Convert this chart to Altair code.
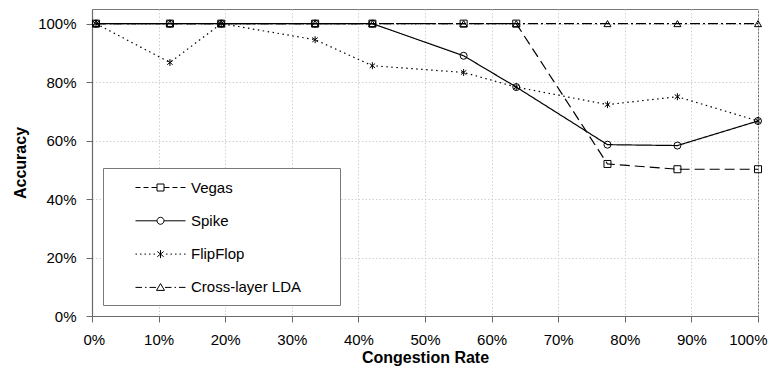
import math
import altair as alt
import pandas as pd

# ---------------- data ----------------
SERIES = ["Vegas", "Spike", "FlipFlop", "Cross-layer LDA"]
CONGESTION = [0.006, 0.117, 0.194, 0.335, 0.421, 0.558, 0.637, 0.774, 0.879, 1.0]
VEGAS = [1.0, 1.0, 1.0, 1.0, 1.0, 1.0, 1.0, 0.520, 0.502, 0.502]
SPIKE = [1.0, 1.0, 1.0, 1.0, 1.0, 0.890, 0.783, 0.586, 0.583, 0.667]
FLIPFLOP = [1.0, 0.867, 1.0, 0.945, 0.856, 0.833, 0.783, 0.723, 0.750, 0.667]
LDA = [1.0, 1.0, 1.0, 1.0, 1.0, 1.0, 1.0, 1.0, 1.0, 1.0]
X_TICKS = [0.0, 0.1, 0.2, 0.3, 0.4, 0.5, 0.6, 0.7, 0.8, 0.9, 1.0]
Y_TICKS = [0.0, 0.2, 0.4, 0.6, 0.8, 1.0]

VALUES = {"Vegas": VEGAS, "Spike": SPIKE, "FlipFlop": FLIPFLOP, "Cross-layer LDA": LDA}
rows = []
for s in SERIES:
    for xv, yv in zip(CONGESTION, VALUES[s]):
        rows.append({"series": s, "rate": xv, "acc": yv})
df = pd.DataFrame(rows)

# ---------------- styles ----------------
FONT = "Liberation Sans"
DASHES = [[10, 5], [1, 0], [1.5, 3.5], [10, 3, 2, 3]]
ASTERISK = "M0,-1L0,1M-0.78,-0.62L0.78,0.62M-0.78,0.62L0.78,-0.62"
SHAPES = ["square", "circle", ASTERISK, "triangle-up"]
SIZES = [49, 49, 64, 64]

# legend symbols: line sample with marker (unit = 10 px)
U = 10.0
EXTEND = 168  # invisible bound to widen the legend box


def hseg(a, b):
    return f"M{a / U:.3f},0L{b / U:.3f},0"


def poly(pts):
    return "M" + "L".join(f"{x / U:.3f},{y / U:.3f}" for x, y in pts) + "Z"


def segs(lst):
    return "".join(hseg(a, b) for a, b in lst)


ext = f"M{EXTEND / U:.3f},0"
sq = poly([(-3.5, -3.5), (3.5, -3.5), (3.5, 3.5), (-3.5, 3.5)])
circ = poly([(3.5 * math.cos(k * math.pi / 8), 3.5 * math.sin(k * math.pi / 8)) for k in range(16)])
tri = poly([(0, -3.8), (4, 3), (-4, 3)])
ast = (f"M0,{-4 / U:.3f}L0,{4 / U:.3f}"
       f"M{-3.2 / U:.3f},{-2.6 / U:.3f}L{3.2 / U:.3f},{2.6 / U:.3f}"
       f"M{-3.2 / U:.3f},{2.6 / U:.3f}L{3.2 / U:.3f},{-2.6 / U:.3f}")

LEG_VEGAS = ext + segs([(-25, -20), (-17, -12), (-9, -3.5), (3.5, 9), (12, 17), (20, 25)]) + sq
LEG_SPIKE = ext + segs([(-25, -3.5), (3.5, 25)]) + circ
LEG_FLIP = ext + segs([(-25, -23.5), (-20.5, -19), (-16, -14.5), (-11.5, -10), (-7, -5.5),
                       (5.5, 7), (10, 11.5), (14.5, 16), (19, 20.5), (23.5, 25)]) + ast
LEG_LDA = ext + segs([(-25, -18.5), (-15.5, -14), (-11, -4.5), (4.5, 11), (14, 15.5), (18.5, 25)]) + tri
LEGEND_PATHS = [LEG_VEGAS, LEG_SPIKE, LEG_FLIP, LEG_LDA]

x_enc = alt.X(
    "rate:Q",
    scale=alt.Scale(domain=[0, 1], nice=False),
    axis=alt.Axis(
        values=X_TICKS, format=".0%", title="Congestion Rate",
        labelFlush=True, labelFlushOffset=9, labelPadding=10, tickSize=6,
        titleBaseline="alphabetic", titleY=46,
    ),
)
y_enc = alt.Y(
    "acc:Q",
    scale=alt.Scale(domain=[0, 1.05], nice=False, zero=True),
    axis=alt.Axis(
        values=Y_TICKS, format=".0%", title="Accuracy",
        labelFlush=False, labelPadding=10, tickSize=6,
        titleBaseline="alphabetic", titleX=-67,
    ),
)

lines = alt.Chart(df).mark_line(color="black", strokeWidth=1.2).encode(
    x=x_enc, y=y_enc,
    strokeDash=alt.StrokeDash("series:N", scale=alt.Scale(domain=SERIES, range=DASHES), legend=None),
)

points = alt.Chart(df).mark_point(filled=False, color="black", strokeWidth=1, opacity=1).encode(
    x=x_enc, y=y_enc,
    shape=alt.Shape("series:N", scale=alt.Scale(domain=SERIES, range=SHAPES), legend=None),
    size=alt.Size("series:N", scale=alt.Scale(domain=SERIES, range=SIZES), legend=None),
)

legend_layer = alt.Chart(df).mark_point(filled=False, color="black", opacity=0).encode(
    x=x_enc, y=y_enc,
    shape=alt.Shape(
        "series:N",
        scale=alt.Scale(domain=SERIES, range=LEGEND_PATHS),
        legend=alt.Legend(
            orient="none", legendX=11, legendY=159, title=None,
            padding=9, rowPadding=14.3, symbolSize=400, symbolOffset=38, labelOffset=20,
            symbolStrokeColor="black", symbolStrokeWidth=1, symbolFillColor="white",
            symbolOpacity=1, labelFont=FONT, labelFontSize=15, labelColor="black",
            labelLimit=300, strokeColor="#7a7a7a", fillColor="white", cornerRadius=0,
        ),
    ),
)

chart = (
    alt.layer(lines, points, legend_layer)
    .resolve_scale(shape="independent", size="independent")
    .properties(
        width=666, height=307,
        autosize=alt.AutoSizeParams(type="none"),
        padding={"left": 84, "top": 1, "right": 14, "bottom": 50},
        background="white",
    )
    .configure_view(stroke="#7a7a7a", strokeWidth=1)
    .configure_axis(
        labelFont=FONT, labelFontSize=15, labelColor="black",
        titleFont=FONT, titleFontSize=16, titleFontWeight="bold", titleColor="black",
        domainColor="#6a6a6a", domainWidth=1.2, tickColor="#6a6a6a", tickWidth=1,
        grid=True, gridColor="#d0d0d0", gridDash=[1.5, 2], gridWidth=1,
    )
)

chart.save("out.html", embed_options={"renderer": "svg", "actions": False})
